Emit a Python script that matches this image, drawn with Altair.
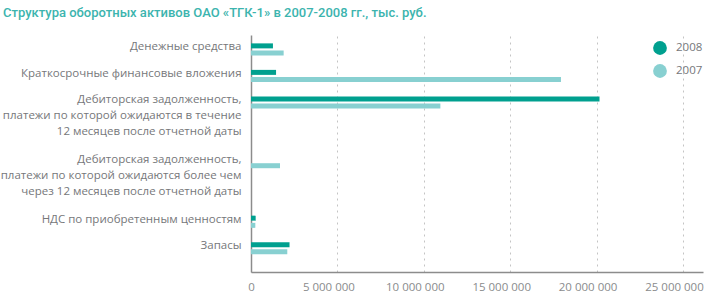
import altair as alt
import pandas as pd

categories = [
    "Денежные средства",
    "Краткосрочные финансовые вложения",
    "Дебиторская задолженность,\nплатежи по которой ожидаются в течение\n12 месяцев после отчетной даты",
    "Дебиторская задолженность,\nплатежи по которой ожидаются более чем\nчерез 12 месяцев после отчетной даты",
    "НДС по приобретенным ценностям",
    "Запасы",
]
values_2008 = [1270000, 1450000, 20170000, 0, 270000, 2230000]
values_2007 = [1890000, 17940000, 10960000, 1680000, 250000, 2100000]
years = ["2008", "2007"]
x_ticks = [0, 5000000, 10000000, 15000000, 20000000, 25000000]

rows = []
for c, v8, v7 in zip(categories, values_2008, values_2007):
    rows.append({"cat": c, "year": "2008", "value": v8})
    rows.append({"cat": c, "year": "2007", "value": v7})
df = pd.DataFrame(rows)

# y slots: multi-line labels get more room (spacers have blank labels)
domain = ["_top"]
for i, c in enumerate(categories):
    domain.append(c)
    if i < len(categories) - 1:
        n_lines = c.count("\n") + 1
        n_spacers = 3 if n_lines == 1 else 8
        for k in range(n_spacers):
            domain.append("_s%d_%d" % (i, k))
domain += ["_end1", "_end2", "_end3"]

GRAY = "#76777a"
FONT = "Open Sans"
FS = 11.5

x_enc = alt.X(
    "value:Q",
    scale=alt.Scale(domain=[0, 26160000], nice=False),
    axis=alt.Axis(
        values=x_ticks,
        labelExpr="replace(format(datum.value, ','), /,/g, ' ')",
        title=None,
        grid=True,
        gridDash=[2, 4],
        gridColor="#c4c4c4",
        gridWidth=1,
        ticks=False,
        tickSize=0,
        domainColor="#8c8c8c",
        domainWidth=1.5,
        labelColor="#8a8b8d",
        labelFont=FONT,
        labelFontSize=FS,
        labelPadding=9,
        labelFlush=False,
        labelOffset={"condition": {"test": "datum.value == 0", "value": 0}, "value": -9},
    ),
)
y_enc = alt.Y(
    "cat:N",
    sort=domain,
    scale=alt.Scale(domain=domain, paddingInner=0, paddingOuter=0.385, align=0.89),
    axis=alt.Axis(
        title=None,
        ticks=False,
        tickSize=0,
        labelExpr="indexof(datum.value, '_') == 0 ? '' : split(datum.value, '\\n')",
        labelBaseline="top",
        labelOffset=-8,
        labelLineHeight=16,
        labelColor=GRAY,
        labelFont=FONT,
        labelFontSize=FS,
        labelPadding=10,
        labelLimit=400,
        labelOverlap=False,
        labelBound=False,
        domainColor="#8c8c8c",
        domainWidth=1.5,
        grid=False,
    ),
)
color_enc = alt.Color(
    "year:N",
    scale=alt.Scale(domain=years, range=["#00a08f", "#88d0d1"]),
    legend=alt.Legend(
        title=None,
        orient="none",
        legendX=402,
        legendY=6,
        symbolType="circle",
        symbolSize=190,
        symbolStrokeWidth=0,
        labelColor=GRAY,
        labelFont=FONT,
        labelFontSize=FS,
        rowPadding=9,
        labelOffset=9,
    ),
)

base = alt.Chart(df)
bar08 = base.transform_filter(alt.datum.year == "2008").mark_bar(size=5, yOffset=-3.6).encode(
    x=x_enc, y=y_enc, color=color_enc
)
bar07 = base.transform_filter(alt.datum.year == "2007").mark_bar(size=5, yOffset=3.6).encode(
    x=x_enc, y=y_enc, color=color_enc
)

chart = (
    alt.layer(bar08, bar07)
    .properties(
        width=452,
        height=237,
        autosize=alt.AutoSizeParams(type="none"),
        padding={"left": 251, "top": 35, "right": 1, "bottom": 27},
        title=alt.TitleParams(
            "Структура оборотных активов ОАО «ТГК-1» в 2007-2008 гг., тыс. руб.",
            anchor="start",
            frame="group",
            dx=-248,
            offset=14,
            font="Roboto",
            fontSize=13,
            fontWeight=500,
            color="#3cb4ae",
        ),
    )
    .configure_view(stroke=None)
)

chart.save("out.html", embed_options={"renderer": "svg", "actions": False})
